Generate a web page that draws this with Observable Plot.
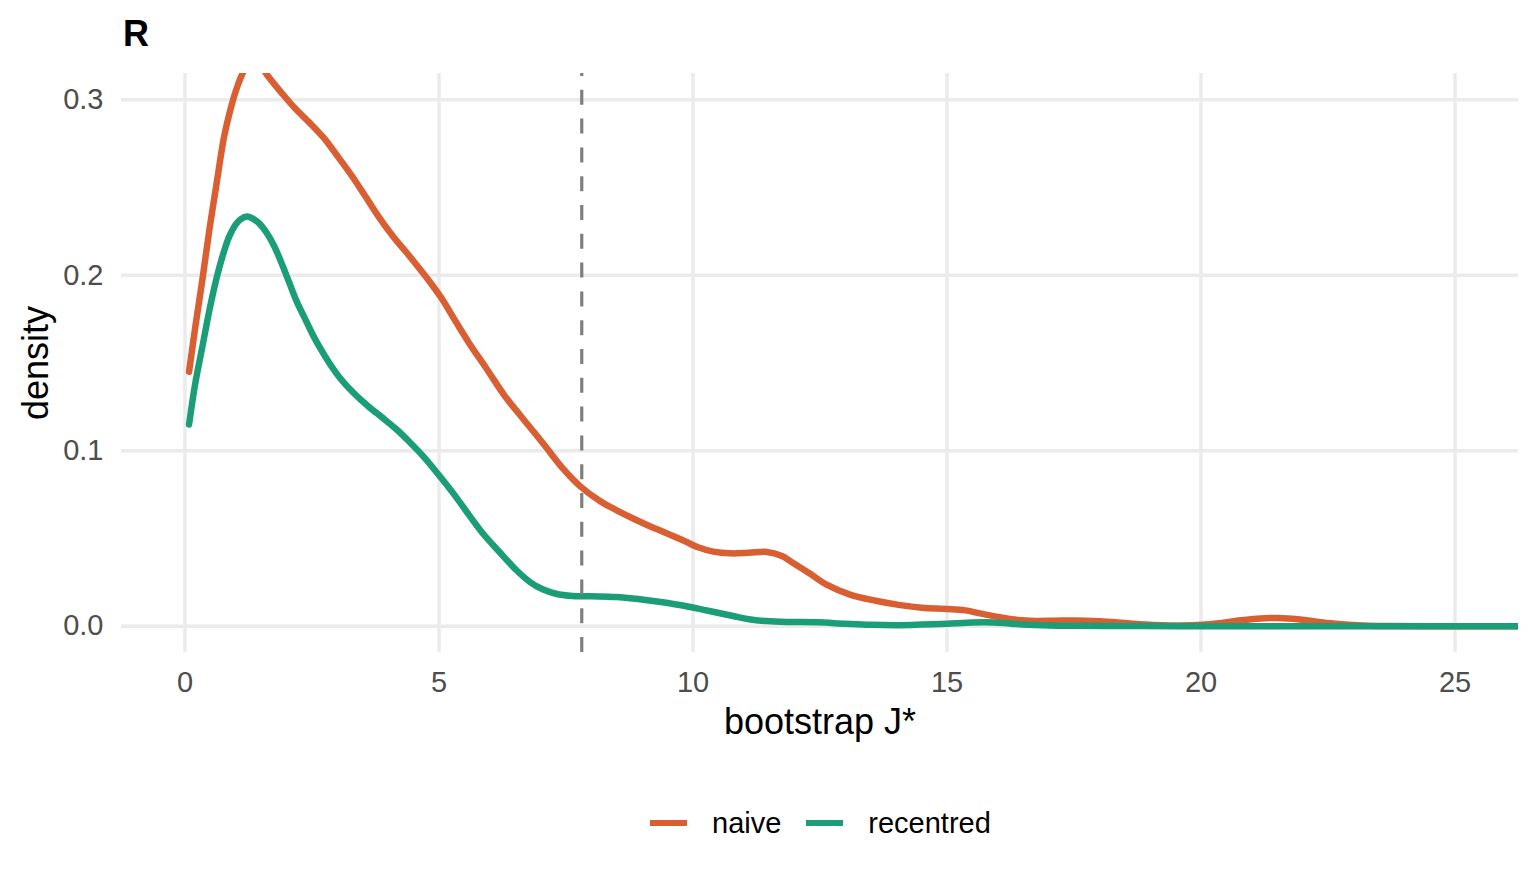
<!DOCTYPE html>
<html>
<head>
<meta charset="utf-8">
<script src="https://cdn.jsdelivr.net/npm/d3@7"></script>
<script src="https://cdn.jsdelivr.net/npm/@observablehq/plot@0.6"></script>
<style>
  html, body { margin: 0; padding: 0; background: #fff; }
  body { width: 1536px; height: 883px; position: relative; overflow: hidden;
         font-family: "Liberation Sans", Arial, Helvetica, sans-serif; }
  #title { position: absolute; left: 123px; top: 15.5px; font-size: 36px; line-height: 1;
           font-weight: bold; color: #000; }
  #chart { position: absolute; left: 0; top: 60px; }
  #legend { position: absolute; left: 650px; top: 806px; height: 34px; display: flex;
            align-items: center; font-size: 29px; color: #000; }
  .key { width: 37px; height: 5.5px; }
  .lab { margin-left: 25px; margin-right: 25px; white-space: nowrap; }
</style>
</head>
<body>
<div id="title">R</div>
<div id="chart"></div>
<div id="legend"></div>
<script>
// ---- data ----
const seriesNames = ["naive", "recentred"];
const seriesColors = ["#D95F32", "#1B9E77"];

const naiveX = [0.08, 0.2, 0.34, 0.48, 0.61, 0.77, 0.9, 1.0, 1.15, 1.3, 1.45, 1.62, 1.9, 2.17, 2.45, 2.74, 3.0, 3.3, 3.55, 3.82, 4.1, 4.36, 4.61, 4.85, 5.07, 5.3, 5.6, 5.93, 6.3, 6.59, 6.9, 7.12, 7.45, 7.77, 8.16, 8.5, 8.81, 9.15, 9.48, 9.8, 10.1, 10.4, 10.73, 11.1, 11.45, 11.75, 11.97, 12.3, 12.64, 13.09, 13.6, 14.08, 14.5, 15.0, 15.36, 15.7, 16.09, 16.4, 16.74, 17.1, 17.53, 18.0, 18.49, 18.9, 19.22, 19.6, 20.03, 20.4, 20.74, 21.1, 21.47, 21.8, 22.12, 22.5, 22.9, 23.3, 23.8, 24.5, 25.5, 26.5, 27.5];
const naiveY = [0.145, 0.17, 0.197, 0.226, 0.250, 0.279, 0.295, 0.305, 0.316, 0.322, 0.321, 0.314, 0.304, 0.295, 0.287, 0.278, 0.268, 0.256, 0.245, 0.233, 0.222, 0.213, 0.204, 0.195, 0.186, 0.175, 0.161, 0.147, 0.131, 0.1205, 0.1095, 0.1015, 0.0895, 0.080, 0.0715, 0.066, 0.0615, 0.057, 0.053, 0.049, 0.045, 0.0425, 0.0415, 0.0418, 0.0423, 0.040, 0.036, 0.030, 0.0235, 0.018, 0.0145, 0.012, 0.0105, 0.0098, 0.009, 0.007, 0.0048, 0.0035, 0.0030, 0.0031, 0.0033, 0.0028, 0.0018, 0.0009, 0.0005, 0.0004, 0.0008, 0.0018, 0.0032, 0.0043, 0.0047, 0.0042, 0.0032, 0.0018, 0.0008, 0.0003, 0.0001, 0, 0, 0, 0];

const recentredX = [0.08, 0.2, 0.34, 0.48, 0.61, 0.74, 0.87, 1.0, 1.1, 1.22, 1.35, 1.48, 1.6, 1.75, 1.9, 2.05, 2.2, 2.35, 2.5, 2.65, 2.84, 3.05, 3.3, 3.6, 3.88, 4.15, 4.42, 4.7, 5.0, 5.3, 5.6, 5.86, 6.2, 6.52, 6.8, 7.04, 7.3, 7.63, 8.0, 8.5, 9.1, 9.8, 10.3, 10.79, 11.1, 11.45, 11.9, 12.44, 13.0, 13.5, 14.08, 14.5, 15.0, 15.4, 15.77, 16.1, 16.48, 17.0, 17.5, 18.5, 19.5, 21, 23, 25, 27.5];
const recentredY = [0.115, 0.138, 0.159, 0.180, 0.197, 0.211, 0.222, 0.229, 0.232, 0.2335, 0.232, 0.229, 0.2245, 0.217, 0.207, 0.196, 0.185, 0.176, 0.167, 0.159, 0.150, 0.1415, 0.1335, 0.1255, 0.119, 0.1125, 0.105, 0.0965, 0.086, 0.075, 0.063, 0.053, 0.042, 0.032, 0.025, 0.021, 0.0185, 0.0172, 0.0170, 0.0166, 0.0148, 0.0118, 0.0088, 0.0058, 0.0040, 0.0029, 0.0024, 0.0022, 0.0014, 0.0008, 0.0006, 0.0009, 0.0014, 0.0020, 0.0022, 0.0018, 0.0010, 0.0004, 0.0002, 0.0001, 0, 0, 0, 0, 0];

const cutoff = [7.81];
const xTicks = [0, 5, 10, 15, 20, 25];
const yTicks = [0, 0.1, 0.2, 0.3];
const xLimits = [0, 25];
const yLimits = [0, 0.3];
const xTitle = "bootstrap J*";
const yTitle = "density";

// ---- build tables ----
const naive = naiveX.map((x, i) => ({x, y: naiveY[i], s: "naive"}));
const recentred = recentredX.map((x, i) => ({x, y: recentredY[i], s: "recentred"}));

// ggplot-style 5% expansion of the limits
const ex = (xLimits[1] - xLimits[0]) * 0.05;
const ey = (yLimits[1] - yLimits[0]) * 0.05;
const xDomain = [xLimits[0] - ex, xLimits[1] + ex];
const yDomain = [yLimits[0] - ey, yLimits[1] + ey];

const grid = "#ebebeb";
const chart = Plot.plot({
  width: 1536,
  height: 692,
  marginLeft: 121,
  marginRight: 18,
  marginTop: 13,
  marginBottom: 100,
  style: {fontFamily: '"Liberation Sans", Arial, Helvetica, sans-serif', background: "white", overflow: "visible"},
  x: {domain: xDomain},
  y: {domain: yDomain},
  color: {domain: seriesNames, range: seriesColors},
  marks: [
    Plot.gridX(xTicks, {stroke: grid, strokeOpacity: 1, strokeWidth: 3.5}),
    Plot.gridY(yTicks, {stroke: grid, strokeOpacity: 1, strokeWidth: 3.5}),
    Plot.axisX(xTicks, {tickSize: 0, tickPadding: 19, fontSize: 29, fill: "#4d4d4d", label: null}),
    Plot.axisY(yTicks, {tickSize: 0, tickPadding: 18, fontSize: 29, fill: "#4d4d4d", label: null, tickFormat: d3.format(".1f")}),
    Plot.line(naive, {x: "x", y: "y", stroke: "s", strokeWidth: 6.5, curve: "catmull-rom", clip: true}),
    Plot.line(recentred, {x: "x", y: "y", stroke: "s", strokeWidth: 6.5, curve: "catmull-rom", clip: true}),
    Plot.ruleX(cutoff, {y1: yDomain[0], y2: yDomain[1], stroke: "#7f7f7f", strokeWidth: 3.2, strokeDasharray: "15,13.8"}),
    Plot.text([xTitle], {text: d => d, frameAnchor: "bottom", lineAnchor: "middle", textAnchor: "middle", dy: 69.5, fontSize: 36, fill: "#000"}),
    Plot.text([yTitle], {text: d => d, frameAnchor: "left", lineAnchor: "middle", textAnchor: "middle", dx: -85.5, rotate: -90, fontSize: 36, fill: "#000"})
  ]
});
document.getElementById("chart").appendChild(chart);

// ---- legend ----
const legend = document.getElementById("legend");
seriesNames.forEach((name, i) => {
  const k = document.createElement("div");
  k.className = "key";
  k.style.background = seriesColors[i];
  const t = document.createElement("span");
  t.className = "lab";
  t.textContent = name;
  legend.appendChild(k);
  legend.appendChild(t);
});
</script>
</body>
</html>
